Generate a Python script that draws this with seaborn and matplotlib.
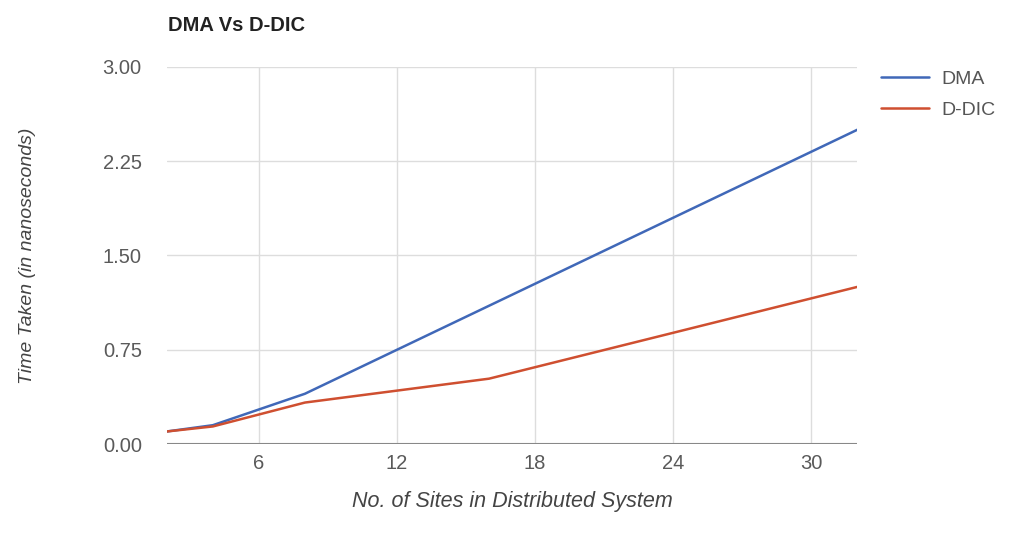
import pandas as pd
import matplotlib
matplotlib.use("Agg")
import matplotlib.pyplot as plt
import seaborn as sns

# values
sites = [2, 4, 8, 16, 32]
dma = [0.10, 0.15, 0.40, 1.10, 2.50]
ddic = [0.10, 0.14, 0.33, 0.52, 1.25]
series_names = ["DMA", "D-DIC"]
x_ticks = [6, 12, 18, 24, 30]
y_ticks = [0.00, 0.75, 1.50, 2.25, 3.00]

df = pd.DataFrame({
    "sites": sites * 2,
    "time": dma + ddic,
    "series": [series_names[0]] * len(sites) + [series_names[1]] * len(sites),
})

sns.set_style("white")
plt.rcParams["font.family"] = ["Liberation Sans", "DejaVu Sans"]

fig = plt.figure(figsize=(10.11, 5.35), dpi=100)
ax = fig.add_axes([0.165, 0.170, 0.683, 0.705])

palette = {"DMA": "#4068b8", "D-DIC": "#cf4f30"}
sns.lineplot(data=df, x="sites", y="time", hue="series", palette=palette,
             linewidth=1.8, ax=ax)

ax.set_xlim(2, 32)
ax.set_ylim(0, 3)
ax.set_xticks(x_ticks)
ax.set_yticks(y_ticks)
ax.set_yticklabels([f"{v:.2f}" for v in y_ticks])
ax.grid(True, color="#dddddd", linewidth=1)
ax.set_axisbelow(True)
for s in ["top", "right", "left", "bottom"]:
    ax.spines[s].set_visible(False)
ax.axhline(0, color="#888888", linewidth=1.5, zorder=1.5)
ax.tick_params(axis="both", length=0, labelsize=14.5, labelcolor="#5a5a5a")
ax.tick_params(axis="x", pad=7)
ax.tick_params(axis="y", pad=18)

ax.set_xlabel("No. of Sites in Distributed System", fontsize=15.5, style="italic",
              color="#444444")
ax.set_ylabel("Time Taken (in nanoseconds)", fontsize=14, style="italic",
              color="#444444")
ax.xaxis.set_label_coords(0.5, -0.125)
ax.yaxis.set_label_coords(-0.19, 0.5)

fig.text(0.166, 0.952, "DMA Vs D-DIC", fontsize=14.5, fontweight="bold",
         color="#222222", va="center", ha="left")

leg = ax.legend(loc="upper left", bbox_to_anchor=(0.854, 0.901),
                bbox_transform=fig.transFigure, frameon=False,
                fontsize=14, handlelength=2.47, handletextpad=0.62,
                labelspacing=0.7)
for t in leg.get_texts():
    t.set_color("#555555")

fig.savefig("out.png", dpi=100)
